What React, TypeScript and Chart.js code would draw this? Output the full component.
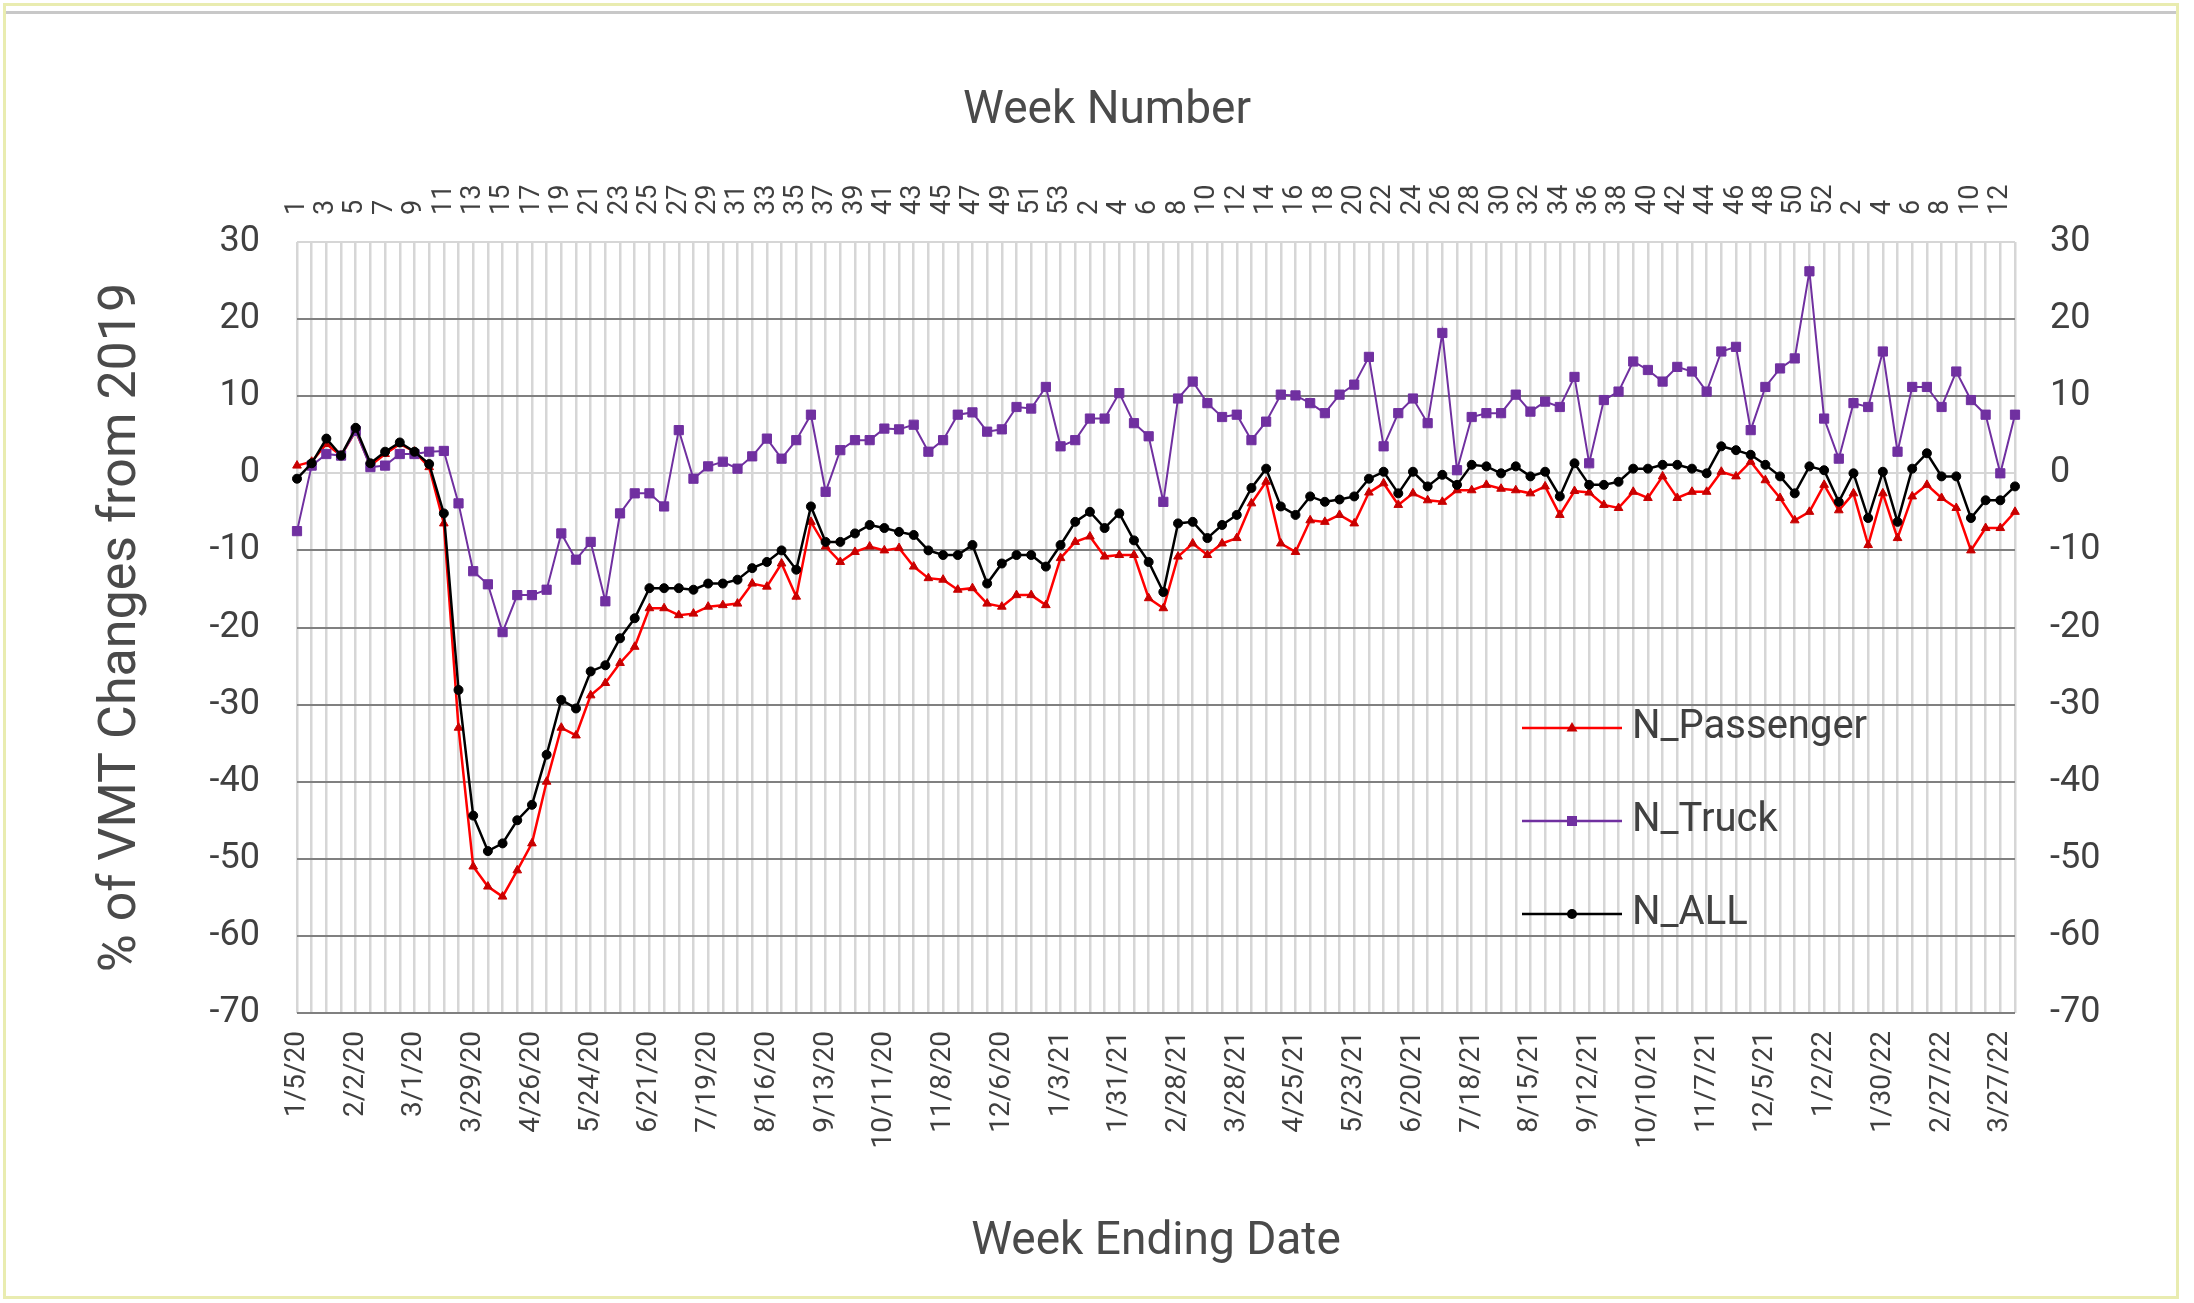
import React, { useEffect, useRef } from 'react';
import { Chart, registerables } from 'chart.js';

Chart.register(...registerables);

// ---------- data ----------
const dates: string[] = [
  '1/5/20', '1/12/20', '1/19/20', '1/26/20', '2/2/20', '2/9/20', '2/16/20', '2/23/20',
  '3/1/20', '3/8/20', '3/15/20', '3/22/20', '3/29/20', '4/5/20', '4/12/20', '4/19/20',
  '4/26/20', '5/3/20', '5/10/20', '5/17/20', '5/24/20', '5/31/20', '6/7/20', '6/14/20',
  '6/21/20', '6/28/20', '7/5/20', '7/12/20', '7/19/20', '7/26/20', '8/2/20', '8/9/20',
  '8/16/20', '8/23/20', '8/30/20', '9/6/20', '9/13/20', '9/20/20', '9/27/20', '10/4/20',
  '10/11/20', '10/18/20', '10/25/20', '11/1/20', '11/8/20', '11/15/20', '11/22/20', '11/29/20',
  '12/6/20', '12/13/20', '12/20/20', '12/27/20', '1/3/21', '1/10/21', '1/17/21', '1/24/21',
  '1/31/21', '2/7/21', '2/14/21', '2/21/21', '2/28/21', '3/7/21', '3/14/21', '3/21/21',
  '3/28/21', '4/4/21', '4/11/21', '4/18/21', '4/25/21', '5/2/21', '5/9/21', '5/16/21',
  '5/23/21', '5/30/21', '6/6/21', '6/13/21', '6/20/21', '6/27/21', '7/4/21', '7/11/21',
  '7/18/21', '7/25/21', '8/1/21', '8/8/21', '8/15/21', '8/22/21', '8/29/21', '9/5/21',
  '9/12/21', '9/19/21', '9/26/21', '10/3/21', '10/10/21', '10/17/21', '10/24/21', '10/31/21',
  '11/7/21', '11/14/21', '11/21/21', '11/28/21', '12/5/21', '12/12/21', '12/19/21', '12/26/21',
  '1/2/22', '1/9/22', '1/16/22', '1/23/22', '1/30/22', '2/6/22', '2/13/22', '2/20/22',
  '2/27/22', '3/6/22', '3/13/22', '3/20/22', '3/27/22', '4/3/22',
];

const weekNumbers: string[] = [
  '1', '2', '3', '4', '5', '6', '7', '8', '9', '10', '11', '12', '13', '14', '15', '16', '17', '18',
  '19', '20', '21', '22', '23', '24', '25', '26', '27', '28', '29', '30', '31', '32', '33', '34', '35',
  '36', '37', '38', '39', '40', '41', '42', '43', '44', '45', '46', '47', '48', '49', '50', '51', '52', '53',
  '1', '2', '3', '4', '5', '6', '7', '8', '9', '10', '11', '12', '13', '14', '15', '16', '17', '18',
  '19', '20', '21', '22', '23', '24', '25', '26', '27', '28', '29', '30', '31', '32', '33', '34', '35',
  '36', '37', '38', '39', '40', '41', '42', '43', '44', '45', '46', '47', '48', '49', '50', '51', '52',
  '1', '2', '3', '4', '5', '6', '7', '8', '9', '10', '11', '12', '13',
];

const passenger: number[] = [
  1.0, 1.5, 3.8, 2.3, 5.5, 1.0, 2.5, 3.8, 2.8, 0.8,
  -6.5, -33.0, -51.0, -53.6, -54.9, -51.5, -48.0, -40.0, -33.0, -34.0,
  -28.8, -27.2, -24.6, -22.5, -17.5, -17.5, -18.4, -18.2, -17.3, -17.1,
  -16.9, -14.3, -14.7, -11.7, -16.0, -6.3, -9.5, -11.5, -10.2, -9.5,
  -10.0, -9.7, -12.1, -13.6, -13.8, -15.1, -14.9, -16.9, -17.3, -15.8,
  -15.8, -17.1, -11.0, -8.9, -8.2, -10.8, -10.6, -10.6, -16.2, -17.5,
  -10.8, -9.1, -10.6, -9.1, -8.4, -3.9, -1.1, -9.1, -10.2, -6.1,
  -6.3, -5.4, -6.5, -2.5, -1.3, -4.1, -2.6, -3.5, -3.7, -2.2,
  -2.2, -1.5, -2.0, -2.2, -2.6, -1.7, -5.4, -2.3, -2.5, -4.1,
  -4.5, -2.4, -3.2, -0.4, -3.2, -2.4, -2.4, 0.2, -0.4, 1.5,
  -0.9, -3.2, -6.1, -5.0, -1.5, -4.8, -2.6, -9.3, -2.6, -8.4,
  -3.0, -1.5, -3.2, -4.5, -10.0, -7.1, -7.1, -5.0,
];

const truck: number[] = [
  -7.5, 1.0, 2.5, 2.3, 5.5, 0.8, 1.0, 2.5, 2.5, 2.8,
  2.9, -3.9, -12.7, -14.4, -20.6, -15.8, -15.8, -15.1, -7.8, -11.2,
  -8.9, -16.6, -5.2, -2.6, -2.6, -4.3, 5.6, -0.7, 0.9, 1.5,
  0.6, 2.2, 4.5, 1.9, 4.3, 7.6, -2.4, 3.0, 4.3, 4.3,
  5.8, 5.7, 6.3, 2.8, 4.3, 7.6, 7.9, 5.4, 5.7, 8.6,
  8.4, 11.2, 3.5, 4.3, 7.1, 7.1, 10.4, 6.5, 4.8, -3.7,
  9.7, 11.9, 9.1, 7.3, 7.6, 4.3, 6.7, 10.2, 10.1, 9.1,
  7.8, 10.2, 11.5, 15.1, 3.5, 7.8, 9.7, 6.5, 18.2, 0.4,
  7.3, 7.8, 7.8, 10.2, 8.0, 9.3, 8.6, 12.5, 1.3, 9.5,
  10.6, 14.5, 13.4, 11.9, 13.8, 13.2, 10.6, 15.8, 16.4, 5.6,
  11.2, 13.6, 14.9, 26.2, 7.1, 1.9, 9.1, 8.6, 15.8, 2.8,
  11.2, 11.2, 8.6, 13.2, 9.5, 7.6, 0.0, 7.6,
];

const all: number[] = [
  -0.7, 1.3, 4.5, 2.3, 5.9, 1.3, 2.8, 4.0, 2.8, 1.2,
  -5.2, -28.1, -44.4, -49.0, -48.0, -45.0, -43.0, -36.5, -29.4, -30.5,
  -25.7, -24.9, -21.4, -18.8, -14.9, -14.9, -14.9, -15.1, -14.3, -14.3,
  -13.8, -12.3, -11.5, -10.0, -12.5, -4.3, -8.9, -8.9, -7.8, -6.7,
  -7.1, -7.6, -8.0, -10.0, -10.6, -10.6, -9.3, -14.3, -11.7, -10.6,
  -10.6, -12.1, -9.3, -6.3, -5.0, -7.1, -5.2, -8.7, -11.5, -15.4,
  -6.5, -6.3, -8.4, -6.7, -5.4, -1.9, 0.6, -4.3, -5.4, -3.0,
  -3.7, -3.4, -3.0, -0.7, 0.2, -2.6, 0.2, -1.7, -0.2, -1.5,
  1.1, 0.9, 0.0, 0.9, -0.4, 0.2, -3.0, 1.3, -1.5, -1.5,
  -1.1, 0.6, 0.6, 1.1, 1.1, 0.6, 0.0, 3.5, 3.0, 2.4,
  1.1, -0.4, -2.6, 0.9, 0.4, -3.7, 0.0, -5.8, 0.2, -6.3,
  0.6, 2.6, -0.4, -0.4, -5.8, -3.5, -3.5, -1.7,
];

const seriesNames: string[] = ['N_Passenger', 'N_Truck', 'N_ALL'];
const yMin = -70;
const yMax = 30;
const yStep = 10;

// ---------- styling ----------
const FONT = "Roboto, 'Open Sans', sans-serif";
const TEXT = '#404040';
const TITLE = '#4a4a4a';
const RED = '#FF0000';
const RED_MARK = '#C80000';
const PURPLE = '#7030A0';
const BLACK = '#000000';
const WEEK_FONT = 27;
const WEEK_LH = 1.2;

function makeIcon(line: string, mark: string, shape: string): HTMLCanvasElement {
  const c = document.createElement('canvas');
  c.width = 100;
  c.height = 24;
  const ctx = c.getContext('2d') as CanvasRenderingContext2D;
  ctx.strokeStyle = line;
  ctx.lineWidth = 2.5;
  ctx.beginPath();
  ctx.moveTo(0, 12);
  ctx.lineTo(100, 12);
  ctx.stroke();
  ctx.fillStyle = mark;
  ctx.beginPath();
  if (shape === 'triangle') {
    ctx.moveTo(50, 6);
    ctx.lineTo(55.5, 15.5);
    ctx.lineTo(44.5, 15.5);
    ctx.closePath();
  } else if (shape === 'rect') {
    ctx.rect(45, 7, 10, 10);
  } else {
    ctx.arc(50, 12, 5, 0, Math.PI * 2);
  }
  ctx.fill();
  return c;
}

export default function App() {
  const ref = useRef<HTMLCanvasElement>(null);

  useEffect(() => {
    const canvas = ref.current;
    if (!canvas) return;
    const icons = [
      makeIcon(RED, RED_MARK, 'triangle'),
      makeIcon(PURPLE, PURPLE, 'rect'),
      makeIcon(BLACK, BLACK, 'circle'),
    ];
    const LEG_PAD = 53;
    const legendPlacer = {
      id: 'legendPlacer',
      afterLayout(chart: any) {
        const lg = chart.legend;
        if (!lg) return;
        lg.left = 1532 - LEG_PAD;
        lg.top = 708 - LEG_PAD;
        lg.right = lg.left + 700;
        lg.bottom = lg.top + 420;
      },
    };

    const chart = new Chart(canvas, {
      type: 'line',
      data: {
        labels: dates,
        datasets: [
          {
            label: seriesNames[0],
            data: passenger,
            borderColor: RED,
            backgroundColor: RED_MARK,
            borderWidth: 2.5,
            pointStyle: 'triangle',
            pointRadius: 5,
            pointBackgroundColor: RED_MARK,
            pointBorderColor: RED_MARK,
            pointBorderWidth: 1,
            tension: 0,
            order: 3,
          },
          {
            label: seriesNames[1],
            data: truck,
            borderColor: PURPLE,
            backgroundColor: PURPLE,
            borderWidth: 2,
            pointStyle: 'rect',
            pointRadius: 6.5,
            pointBackgroundColor: PURPLE,
            pointBorderColor: PURPLE,
            pointBorderWidth: 1,
            tension: 0,
            order: 2,
          },
          {
            label: seriesNames[2],
            data: all,
            borderColor: BLACK,
            backgroundColor: BLACK,
            borderWidth: 2.5,
            pointStyle: 'circle',
            pointRadius: 4.5,
            pointBackgroundColor: BLACK,
            pointBorderColor: BLACK,
            pointBorderWidth: 1,
            tension: 0,
            order: 1,
          },
        ],
      },
      options: {
        responsive: false,
        animation: false,
        devicePixelRatio: 1,
        events: [],
        layout: { padding: { left: 20, right: 0, top: 0, bottom: 0 } },
        plugins: {
          title: {
            display: true,
            text: 'Week Number',
            color: TITLE,
            font: { family: FONT, size: 46, weight: 'normal', lineHeight: 1.2 },
            padding: { top: 84, bottom: 0 },
          },
          legend: {
            position: 'chartArea',
            align: 'start',
            labels: {
              usePointStyle: true,
              pointStyleWidth: 80,
              padding: LEG_PAD,
              color: TEXT,
              font: { family: FONT, size: 40 },
              generateLabels: () =>
                seriesNames.map((name, i) => ({
                  text: name,
                  pointStyle: icons[i],
                  fillStyle: 'transparent',
                  strokeStyle: 'transparent',
                  lineWidth: 0,
                  hidden: false,
                  datasetIndex: i,
                  fontColor: TEXT,
                })),
            },
          },
          tooltip: { enabled: false },
        },
        scales: {
          x: {
            type: 'category',
            position: 'bottom',
            offset: false,
            grid: { color: '#d6d6d6', lineWidth: 2.5, drawTicks: false },
            border: { display: false },
            ticks: {
              autoSkip: false,
              maxRotation: 90,
              minRotation: 90,
              padding: 18,
              color: TEXT,
              font: { family: FONT, size: 28 },
              callback: (_v: any, i: number) => (i % 4 === 0 ? dates[i] : ''),
            },
            title: {
              display: true,
              text: 'Week Ending Date',
              color: TITLE,
              font: { family: FONT, size: 46, lineHeight: 1.2 },
              padding: { top: 0, bottom: 33 },
            },
            afterFit: (s: any) => {
              s.height = 290;
            },
          },
          x2: {
            type: 'category',
            position: 'top',
            labels: weekNumbers,
            offset: false,
            grid: { display: false, drawTicks: false },
            border: { display: false },
            ticks: {
              autoSkip: false,
              maxRotation: 90,
              minRotation: 90,
              padding: 27,
              labelOffset: WEEK_FONT * WEEK_LH,
              color: TEXT,
              font: { family: FONT, size: WEEK_FONT, lineHeight: WEEK_LH },
              callback: (_v: any, i: number) => (i % 2 === 0 ? weekNumbers[i] : ''),
            },
            afterFit: (s: any) => {
              s.height = 242 - 84 - 46 * 1.2;
            },
          },
          y: {
            type: 'linear',
            position: 'left',
            min: yMin,
            max: yMax,
            ticks: { stepSize: yStep, padding: 37, color: TEXT, font: { family: FONT, size: 36 } },
            grid: {
              color: (c: any) => (c.tick && (c.tick.value === 0 || c.tick.value === yMax) ? '#d6d6d6' : '#808080'),
              lineWidth: 2,
              drawTicks: false,
            },
            border: { display: false },
            title: {
              display: true,
              text: '% of VMT Changes from 2019',
              color: TITLE,
              font: { family: FONT, size: 52, lineHeight: 1.2 },
              padding: { top: 71, bottom: 0 },
            },
            afterFit: (s: any) => {
              s.width = 277;
            },
          },
          y2: {
            type: 'linear',
            position: 'right',
            min: yMin,
            max: yMax,
            ticks: { stepSize: yStep, padding: 35, color: TEXT, font: { family: FONT, size: 36 } },
            grid: { display: false, drawTicks: false },
            border: { display: false },
            afterFit: (s: any) => {
              s.width = 179;
            },
          },
        },
      } as any,
      plugins: [legendPlacer],
    });

    return () => {
      chart.destroy();
    };
  }, []);

  return (
    <div style={{ position: 'absolute', left: 0, top: 0, width: 2194, height: 1303, background: '#ffffff', overflow: 'hidden' }}>
      <canvas ref={ref} width={2194} height={1303} style={{ position: 'absolute', left: 0, top: 0, width: 2194, height: 1303 }} />
      <div
        style={{
          position: 'absolute',
          left: 3,
          top: 3,
          width: 2176,
          height: 1296,
          boxSizing: 'border-box',
          border: '3px solid #e9ecb0',
          pointerEvents: 'none',
        }}
      />
      <div
        style={{
          position: 'absolute',
          left: 6,
          top: 11,
          width: 2170,
          height: 3,
          background: '#c8c8c8',
          pointerEvents: 'none',
        }}
      />
    </div>
  );
}
